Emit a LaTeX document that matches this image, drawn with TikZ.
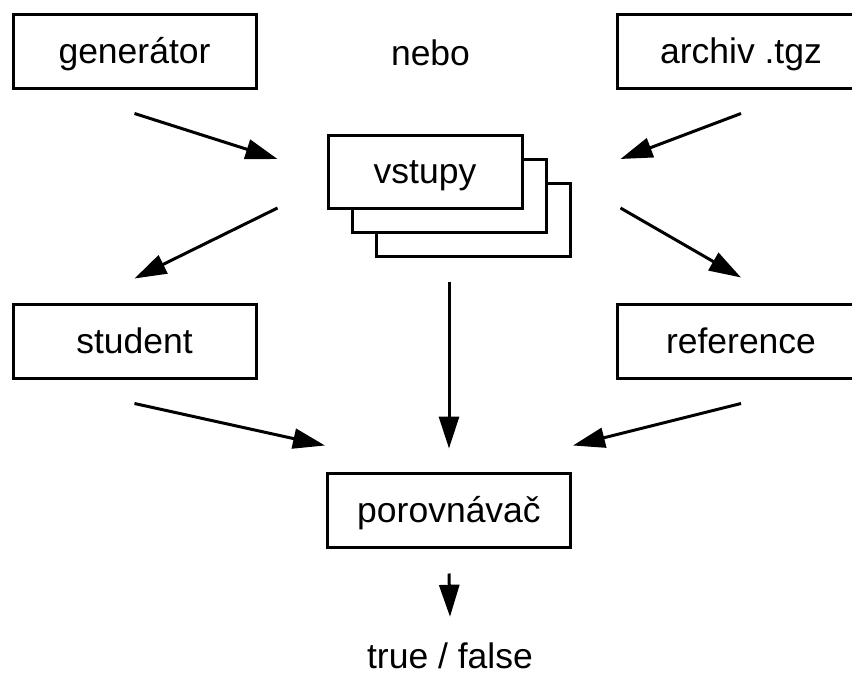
\documentclass[tikz,border=0pt]{standalone}
\usepackage{fontspec}
\setmainfont{Liberation Sans}
\usetikzlibrary{arrows.meta}

\begin{document}
\begin{tikzpicture}[x=1pt,y=-1pt,>={Triangle[length=32pt,width=20pt]},
    line width=3pt,font=\fontsize{35.5}{42}\selectfont]
  \tikzset{
    blank/.style={
      inner sep=0pt,
      anchor=base},
    rect/.style={
      rectangle,
      draw=black,
      fill=white,
      inner sep=0pt,
      text height=30pt,
      text depth=6pt,
      minimum width=243pt,
      minimum height=74pt,
      text centered},
    wide/.style={
      rect,
      minimum width=248pt},
    sheet/.style={
      rect,
      minimum width=194pt,
      minimum height=73pt}}

  \useasboundingbox (0,0) rectangle (852,675);

  \node[rect] (gen) at (134.5,51) {generátor};
  \node[blank] (nebo) at (430.5,65) {nebo};
  \node[wide] (arch) at (741,51) {archiv .tgz};

  \node[sheet] (vst3) at (473,219.5) {};
  \node[sheet] (vst2) at (449,195.5) {};
  \node[sheet] (vst) at (425,171.5) {vstupy};

  \node[rect] (stu) at (134.5,341) {student};
  \node[wide] (ref) at (741,341) {reference};
  \node[rect] (cmp) at (449,510) {porovnávač};
  \node[blank] (res) at (450,668) {true / false};

  \path[->] ([yshift=-24pt]gen.south) edge ([xshift=-73pt,yshift=36.5pt]vst2.west);
  \path[->] ([yshift=-24pt]arch.south) edge ([xshift=73pt,yshift=36.5pt]vst2.east);
  \path[->] ([xshift=-73pt,yshift=-12.5pt]vst2.west) edge ([yshift=24pt]stu.north);
  \path[->] ([xshift=73pt,yshift=-12.5pt]vst2.east) edge ([yshift=25pt]ref.north);
  \path[->] ([yshift=-48pt]vst2.south) edge ([yshift=23pt]cmp.north);

  \path[->] ([yshift=-24pt]stu.south) edge ([xshift=-1pt,yshift=26pt]cmp.north west);
  \path[->] ([yshift=-24pt]ref.south) edge ([xshift=1pt,yshift=26pt]cmp.north east);
  \path[->] ([yshift=-25pt]cmp.south) edge ([yshift=24pt]res.north);

\end{tikzpicture}
\end{document}
